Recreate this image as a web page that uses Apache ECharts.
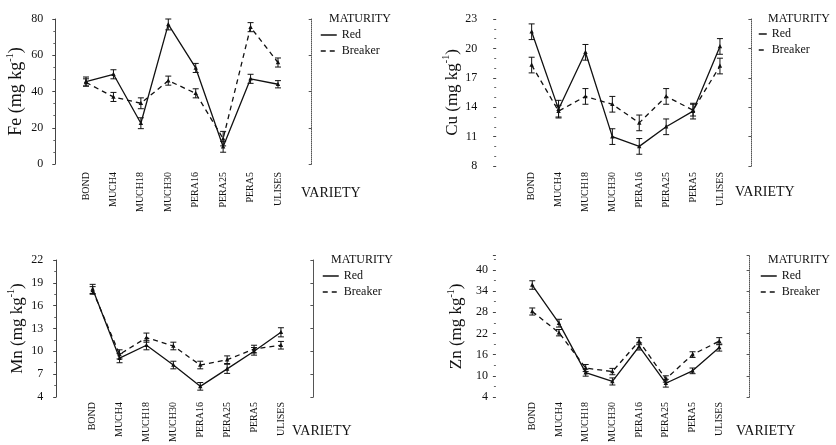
<!DOCTYPE html>
<html>
<head>
<meta charset="utf-8">
<script src="https://cdn.jsdelivr.net/npm/echarts@6/dist/echarts.min.js"></script>
<style>
html,body{margin:0;padding:0;background:#fff;}
#c{width:836px;height:445px;}
</style>
</head>
<body>
<div id="c"></div>
<script>
// ---- data ----
var categories = ['BOND','MUCH4','MUCH18','MUCH30','PERA16','PERA25','PERA5','ULISES'];
var seriesNames = ['Red','Breaker'];

var feRed        = [45.5, 49.5, 22.5, 77.0, 53.0, 9.5, 47.0, 44.0];
var feRedErr     = [2.5, 2.5, 3.0, 3.0, 2.5, 3.0, 2.5, 2.0];
var feBreaker    = [45.0, 37.0, 33.5, 46.0, 39.0, 14.0, 75.5, 56.0];
var feBreakerErr = [2.0, 2.5, 3.0, 2.5, 2.5, 4.0, 2.5, 2.5];

var cuRed        = [21.7, 13.8, 19.6, 11.0, 10.0, 12.0, 13.6, 20.2];
var cuRedErr     = [0.8, 0.9, 0.8, 0.8, 0.8, 0.8, 0.8, 0.8];
var cuBreaker    = [18.3, 13.6, 15.1, 14.3, 12.4, 15.1, 13.7, 18.2];
var cuBreakerErr = [0.8, 0.6, 0.8, 0.8, 0.8, 0.8, 0.6, 0.8];

var mnRed        = [18.2, 9.1, 10.8, 8.2, 5.4, 7.7, 10.0, 12.5];
var mnRedErr     = [0.6, 0.6, 0.6, 0.5, 0.5, 0.6, 0.5, 0.6];
var mnBreaker    = [18.0, 9.6, 11.8, 10.7, 8.2, 8.9, 10.3, 10.8];
var mnBreakerErr = [0.5, 0.6, 0.6, 0.5, 0.5, 0.5, 0.5, 0.5];

var znRed        = [35.7, 24.9, 10.9, 8.4, 18.3, 7.9, 11.4, 18.0];
var znRedErr     = [1.2, 1.1, 1.0, 1.0, 1.0, 1.1, 0.8, 1.0];
var znBreaker    = [28.2, 22.2, 12.2, 11.2, 19.8, 9.1, 16.0, 19.8];
var znBreakerErr = [1.0, 0.9, 1.0, 0.9, 1.0, 0.9, 0.8, 1.0];

var feTicks = {min: 0, max: 80, interval: 20};
var cuTicks = {min: 8, max: 23, interval: 3};
var mnTicks = {min: 4, max: 22, interval: 3};
var znTicks = {min: 4, max: 44, interval: 6};

// ---- layout ----
var SERIF = '"Liberation Serif","DejaVu Serif","Times New Roman",serif';
var panels = [
  {el:'Fe', red:feRed, redErr:feRedErr, br:feBreaker, brErr:feBreakerErr, ticks:feTicks, minor:3,
   grid:{left:72.3, top:19, width:219.4, height:145}, yOff:17, rOff:20, labM:12, nameGap:28, nameSize:18,
   axisSolid:true, rightType:'dotted', legX:320, legY:29, legW:16, matX:329, matY:13, varX:301, varY:186, xlabM:8},
  {el:'Cu', red:cuRed, redErr:cuRedErr, br:cuBreaker, brErr:cuBreakerErr, ticks:cuTicks, minor:3,
   grid:{left:518.2, top:19, width:215.2, height:147}, yOff:22, rOff:18, labM:19, nameGap:29, nameSize:17,
   axisSolid:false, rightType:'dotted', legX:758, legY:28, legW:8, matX:768, matY:13, varX:735, varY:185, xlabM:6},
  {el:'Mn', red:mnRed, redErr:mnRedErr, br:mnBreaker, brErr:mnBreakerErr, ticks:mnTicks, minor:2,
   grid:{left:79.2, top:260, width:215.2, height:146.7}, yOff:23, rOff:19, labM:13, nameGap:28, nameSize:17,
   axisSolid:true, rightType:'solid', legX:322, legY:270, legW:16, matX:331, matY:254, varX:292, varY:424, xlabM:5},
  {el:'Zn', red:znRed, redErr:znRedErr, br:znBreaker, brErr:znBreakerErr, ticks:znTicks, minor:2,
   grid:{left:518.9, top:255.7, width:213.7, height:150.3}, yOff:23, rOff:17, labM:8, nameGap:28, nameSize:17,
   axisSolid:false, rightType:'dotted', legX:760, legY:270, legW:16, matX:768, matY:254, varX:736, varY:424, xlabM:5}
];

function toErrData(vals, errs){
  return vals.map(function(v,i){ return [i, v, errs[i]]; });
}

function errRender(params, api){
  var x = api.value(0), v = api.value(1), e = api.value(2);
  var top = api.coord([x, v + e]);
  var bot = api.coord([x, v - e]);
  var mid = api.coord([x, v]);
  var hw = 3;
  var st = {stroke:'#111', lineWidth:1};
  return {type:'group', children:[
    {type:'line', shape:{x1:top[0], y1:top[1], x2:bot[0], y2:bot[1]}, style:st},
    {type:'line', shape:{x1:top[0]-hw, y1:top[1], x2:top[0]+hw, y2:top[1]}, style:st},
    {type:'line', shape:{x1:bot[0]-hw, y1:bot[1], x2:bot[0]+hw, y2:bot[1]}, style:st},
    {type:'polygon', shape:{points:[[mid[0], mid[1]-2.5],[mid[0]-2.2, mid[1]+1.8],[mid[0]+2.2, mid[1]+1.8]]}, style:{fill:'#111'}}
  ]};
}

var option = {
  backgroundColor:'#fff',
  animation:false,
  grid:[], xAxis:[], yAxis:[], series:[], legend:[], title:[]
};

panels.forEach(function(p, k){
  option.grid.push(p.grid);
  option.xAxis.push({
    type:'category', gridIndex:k, data:categories, boundaryGap:true,
    axisLine:{show:false}, axisTick:{show:false},
    axisLabel:{rotate:90, interval:0, margin:p.xlabM, fontFamily:SERIF, fontSize:10, color:'#111'}
  });
  option.yAxis.push({
    type:'value', gridIndex:k, position:'left', offset:p.yOff,
    min:p.ticks.min, max:p.ticks.max, interval:p.ticks.interval,
    splitLine:{show:false},
    axisLine:{show:p.axisSolid, lineStyle:{color:'#444', width:1}},
    axisTick:{show:true, length:3, lineStyle:{color:'#444'}},
    minorTick:{show:true, splitNumber:p.minor, length:2, lineStyle:{color:'#666'}},
    axisLabel:{margin:p.labM, fontFamily:SERIF, fontSize:12, color:'#111', showMaxLabel: p.el !== 'Zn'},
    name:'{t|' + p.el + ' (mg kg}{s|-1}{t|)}',
    nameLocation:'middle', nameRotate:90, nameGap:p.nameGap,
    nameTextStyle:{fontFamily:SERIF, color:'#111',
      rich:{t:{fontFamily:SERIF, fontSize:p.nameSize, color:'#111', lineHeight:22},
            s:{fontFamily:SERIF, fontSize:10, color:'#111', verticalAlign:'top', lineHeight:14}}}
  });
  option.yAxis.push({
    type:'value', gridIndex:k, position:'right', offset:p.rOff,
    min:p.ticks.min, max:p.ticks.max, interval:p.ticks.interval,
    splitLine:{show:false},
    axisLine:{show:true, lineStyle:{color:'#555', width:1, type:p.rightType}},
    axisTick:{show:true, inside:true, length:3, lineStyle:{color:'#555'}},
    minorTick:{show:false},
    axisLabel:{show:false}
  });
  var yi = k*2;
  option.series.push({
    name:'Red', type:'line', xAxisIndex:k, yAxisIndex:yi, data:p.red,
    symbol:'none', lineStyle:{color:'#111', width:1.3, type:'solid'}, itemStyle:{color:'#111'}, z:3
  });
  option.series.push({
    name:'Breaker', type:'line', xAxisIndex:k, yAxisIndex:yi, data:p.br,
    symbol:'none', lineStyle:{color:'#111', width:1.3, type:[5,4]}, itemStyle:{color:'#111'}, z:3
  });
  option.series.push({
    name:'Red err', type:'custom', xAxisIndex:k, yAxisIndex:yi,
    data:toErrData(p.red, p.redErr), renderItem:errRender, encode:{x:0, y:1}, z:4
  });
  option.series.push({
    name:'Breaker err', type:'custom', xAxisIndex:k, yAxisIndex:yi,
    data:toErrData(p.br, p.brErr), renderItem:errRender, encode:{x:0, y:1}, z:4
  });
  option.legend.push({
    data:seriesNames, orient:'vertical', left:p.legX, top:p.legY, padding:0,
    itemWidth:p.legW, itemHeight:10, itemGap:4,
    itemStyle:{opacity:0},
    lineStyle:{width:1.5},
    textStyle:{fontFamily:SERIF, fontSize:12, color:'#111'},
    selectedMode:false
  });
  option.title.push({text:'MATURITY', left:p.matX, top:p.matY, padding:0,
    textStyle:{fontFamily:SERIF, fontSize:12, fontWeight:'normal', color:'#111'}});
  option.title.push({text:'VARIETY', left:p.varX, top:p.varY, padding:0,
    textStyle:{fontFamily:SERIF, fontSize:14, fontWeight:'normal', color:'#111'}});
});

var chart = echarts.init(document.getElementById('c'), null, {renderer:'canvas'});
chart.setOption(option);
</script>
</body>
</html>
